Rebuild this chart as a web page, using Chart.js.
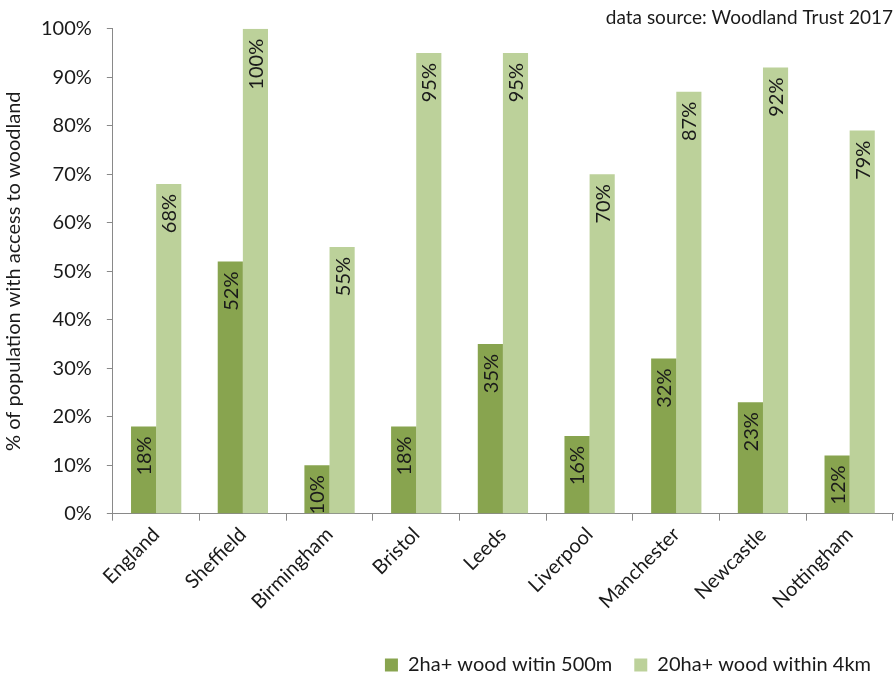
<!DOCTYPE html>
<html>
<head>
<meta charset="utf-8">
<script src="https://cdn.jsdelivr.net/npm/chart.js@4"></script>
<style>
  html, body { margin: 0; padding: 0; background: #fff; }
  #wrap { width: 896px; height: 679px; }
</style>
</head>
<body>
<div id="wrap"><canvas id="myChart"></canvas></div>
<script>
// chart data
const cities = ['England', 'Sheffield', 'Birmingham', 'Bristol', 'Leeds', 'Liverpool', 'Manchester', 'Newcastle', 'Nottingham'];
const small_wood = [18, 52, 10, 18, 35, 16, 32, 23, 12];
const large_wood = [68, 100, 55, 95, 95, 70, 87, 92, 79];

const dark_green = '#88A44F';
const light_green = '#BCD19A';
const axis_grey = '#898989';
const font_family = 'Lato, "Open Sans", sans-serif';

// writes the value labels up the inside of each bar, near its top
const barLabels = {
    id: 'barLabels',
    afterDatasetsDraw(chart) {
        const ctx = chart.ctx;
        ctx.save();
        ctx.font = '20px ' + font_family;
        ctx.fillStyle = '#1a1a1a';
        ctx.textAlign = 'right';
        ctx.textBaseline = 'middle';
        chart.data.datasets.forEach(function(ds, i) {
            const meta = chart.getDatasetMeta(i);
            meta.data.forEach(function(bar, j) {
                ctx.save();
                ctx.translate(bar.x + 1, bar.y + 10);
                ctx.rotate(-Math.PI / 2);
                ctx.fillText(ds.data[j] + '%', 0, 0);
                ctx.restore();
            });
        });
        ctx.restore();
    }
};

const ctx = document.getElementById('myChart').getContext('2d');
const myChart = new Chart(ctx, {
    type: 'bar',
    data: {
        labels: cities,
        datasets: [{
            label: '2ha+ wood witin 500m',
            data: small_wood,
            backgroundColor: dark_green,
            barPercentage: 1.0,
            categoryPercentage: 0.58
        }, {
            label: '20ha+ wood within 4km',
            data: large_wood,
            backgroundColor: light_green,
            barPercentage: 1.0,
            categoryPercentage: 0.58
        }]
    },
    options: {
        responsive: true,
        maintainAspectRatio: false,
        animation: false,
        layout: {
            padding: { left: 2, right: 3, top: 0, bottom: -6 }
        },
        plugins: {
            title: {
                display: true,
                text: 'data source: Woodland Trust 2017',
                align: 'end',
                color: '#1a1a1a',
                font: { family: font_family, size: 19, weight: 'normal' },
                padding: { top: 6, bottom: 0 }
            },
            legend: {
                position: 'bottom',
                align: 'end',
                labels: {
                    color: '#1a1a1a',
                    font: { family: font_family, size: 20 },
                    boxWidth: 13,
                    boxHeight: 13,
                    padding: 22
                }
            },
            tooltip: { enabled: false }
        },
        scales: {
            x: {
                grid: {
                    offset: true,
                    drawOnChartArea: false,
                    drawTicks: true,
                    tickLength: 7,
                    color: axis_grey
                },
                border: { color: axis_grey },
                ticks: {
                    color: '#1a1a1a',
                    font: { family: font_family, size: 20 },
                    minRotation: 45,
                    maxRotation: 45,
                    padding: 2
                },
                // blank title only keeps a gap between the labels and the legend
                title: {
                    display: true,
                    text: ' ',
                    font: { size: 10 },
                    padding: { top: 0, bottom: 5 }
                }
            },
            y: {
                min: 0,
                max: 100,
                grid: {
                    drawOnChartArea: false,
                    drawTicks: true,
                    tickLength: 6,
                    color: axis_grey
                },
                border: { color: axis_grey },
                ticks: {
                    stepSize: 10,
                    color: '#1a1a1a',
                    font: { family: font_family, size: 20 },
                    padding: 15,
                    callback: function(v) { return v + '%'; }
                },
                title: {
                    display: true,
                    text: '% of population with access to woodland',
                    color: '#1a1a1a',
                    font: { family: font_family, size: 20 },
                    padding: { top: 0, bottom: 0 }
                }
            }
        }
    },
    plugins: [barLabels]
});
</script>
</body>
</html>
